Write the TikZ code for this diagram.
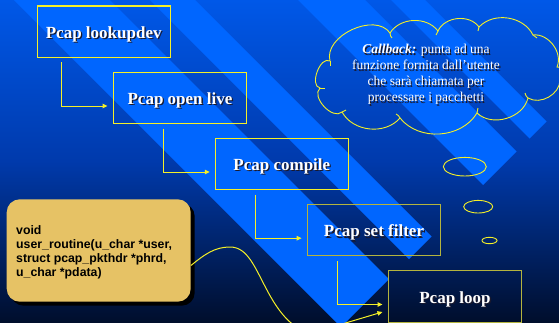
\documentclass[tikz,border=0pt]{standalone}
\usepackage{fontspec}
\setmainfont{Liberation Serif}
\newfontfamily\codefont{Liberation Sans}
\usetikzlibrary{calc,arrows.meta,shapes.geometric,shadows}

\definecolor{bgtop}{RGB}{0,88,232}
\definecolor{bgmid}{RGB}{0,58,172}
\definecolor{bgbot}{RGB}{0,14,44}
\definecolor{stripe}{RGB}{0,102,255}
\definecolor{ylw}{RGB}{245,240,40}
\definecolor{olive}{RGB}{180,180,62}
\definecolor{codebg}{RGB}{230,194,101}
\definecolor{shd}{RGB}{25,25,45}

\newcommand\shtxt[1]{\leavevmode\rlap{\kern1.3pt\raisebox{-1.3pt}{\textcolor{shd}{#1}}}\textcolor{white}{#1}}

\tikzset{
  pbox/.style={draw=ylw, line width=1.1pt, minimum width=133pt, minimum height=51.4pt,
    inner sep=0pt, text height=13pt, text depth=0pt,
    font=\bfseries\fontsize{17}{20}\selectfont},
  conn/.style={draw=ylw, line width=1pt, -{Triangle[length=5pt,width=4.5pt]}},
  bubble/.style={draw=ylw, line width=0.9pt, ellipse, inner sep=0pt},
  cloudline/.style={draw=ylw, line width=0.9pt},
}

\begin{document}
\begin{tikzpicture}[x=1pt,y=-1pt]
\useasboundingbox (0,0) rectangle (559,322);
\clip (0,0) rectangle (559,322);
% background
\shade[top color=bgtop, bottom color=bgbot, middle color=bgmid] (0,0) rectangle (559,322);
\foreach \a/\b in {14/110,150/195,298/365,391/425}
  \fill[stripe] (\a,0) -- (\b,0) -- ({(668+\b)/2},{(668-\b)/2}) -- ({(668+\a)/2},{(668-\a)/2}) -- cycle;

% cloud
\draw[cloudline] (330,61) to[bend left=80] (390,33) to[bend left=55] (438,31)
  to[bend left=60] (479,27) to[bend left=55] (533,35) to[bend left=60] (557,67)
  to[bend left=90] (560,80) to[bend left=60] (528,98) to[bend left=60] (477,113)
  to[bend left=55] (400,118) to[bend left=55] (342,112) to[bend left=90] (320,88)
  to[bend left=100] (330,61);
% inner hooks of the cloud lobes
\draw[cloudline] (390,33) to[bend right=20] (392,38);
\draw[cloudline] (438,31) to[bend right=20] (436,35);
\draw[cloudline] (479,27) to[bend right=20] (478,31);
\draw[cloudline] (533,35) to[bend left=20] (537,38);
\draw[cloudline] (528,98) to[bend left=20] (525,93);
\draw[cloudline] (477,113) to[bend left=20] (478,108);
\draw[cloudline] (400,118) to[bend right=20] (396,114);
\draw[cloudline] (342,112) to[bend right=20] (346,110);
\draw[cloudline] (320,88) to[bend left=20] (325,88);
\draw[cloudline] (330,61) to[bend left=20] (330,66);
\node[anchor=base, align=center, inner sep=0pt, font=\fontsize{13.5}{16}\selectfont] (cloudtxt) at (426,101.7)
  {\shtxt{\textbf{\textit{Callback:}} punta ad una}\\ \shtxt{funzione fornita dall’utente}\\
   \shtxt{che sarà chiamata per}\\ \shtxt{processare i pacchetti}};

% thought bubbles
\node[bubble, minimum width=43pt, minimum height=18.6pt] (b1) at (464.8,166.7) {};
\node[bubble, minimum width=29pt, minimum height=12.6pt] (b2) at (478.2,206.7) {};
\node[bubble, minimum width=15pt, minimum height=6.4pt] (b3) at (489.5,240.5) {};

% boxes
\node[pbox] (lookup) at (103.7,31.7) {\shtxt{Pcap lookupdev}};
\node[pbox] (open) at (180,98) {\shtxt{Pcap open live}};
\node[pbox] (compile) at (281.8,164) {\shtxt{Pcap compile}};
\node[pbox, draw=olive] (filter) at (374,230.2) {\shtxt{Pcap set filter}};
\node[pbox, draw=olive] (loop) at (455,296.5) {\shtxt{Pcap loop}};

% connectors
\coordinate (s1) at ($(lookup.south west)+(25,4.4)$);
\coordinate (e1) at ($(open.west)+(-5.4,8)$);
\coordinate (s2) at ($(open.south west)+(51,4.4)$);
\coordinate (e2) at ($(compile.west)+(-5,8)$);
\coordinate (s3) at ($(compile.south west)+(41,4.4)$);
\coordinate (e3) at ($(filter.west)+(-5.3,8)$);
\coordinate (s4) at ($(filter.south west)+(30.3,4.4)$);
\coordinate (e4) at ($(loop.west)+(-5.4,8)$);
\draw[conn] (s1) |- (e1);
\draw[conn] (s2) |- (e2);
\draw[conn] (s3) |- (e3);
\draw[conn] (s4) |- (e4);

% code box
\node[fill=codebg, rounded corners=13pt, minimum width=184pt, minimum height=102.4pt, inner sep=0pt,
  general shadow={fill=black, shadow xshift=4pt, shadow yshift=-4pt}] (code) at (98.7,250.5) {};
\node[anchor=base west, align=left, inner sep=0pt, font=\codefont\bfseries\fontsize{12.3}{14}\selectfont] (codetxt) at (16,276)
  {void\\user\_routine(u\_char *user,\\struct pcap\_pkthdr *phrd,\\u\_char *pdata)};

% callback curve
\coordinate (cs) at ($(code.east)+(0,15)$);
\coordinate (ce) at ($(loop.west)+(-5.5,15.5)$);
\draw[conn] (cs) .. controls (205,254) and (215,247) .. (230,247)
  .. controls (248,247) and (255,268) .. (268,292)
  .. controls (282,318) and (300,338) .. (322,330) -- (ce);
\end{tikzpicture}
\end{document}
